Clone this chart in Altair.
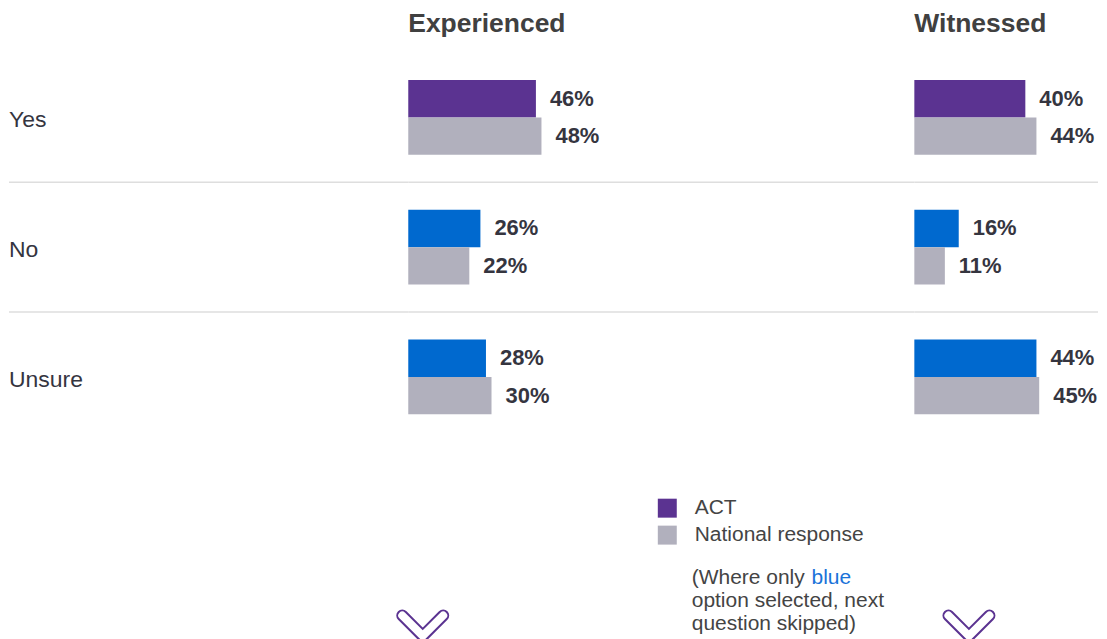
import altair as alt
import pandas as pd

# ---- data ----
rows = ["Yes", "No", "Unsure"]
series = ["ACT", "National response"]
experienced_act = [46, 26, 28]
experienced_national = [48, 22, 30]
witnessed_act = [40, 16, 44]
witnessed_national = [44, 11, 45]
act_keys = ["ACT", "ACT (skip)", "ACT (skip)"]
panel_titles = ["Experienced", "Witnessed"]
separators = ["Yes", "No"]
note_text = "(Where only \noption selected, next\nquestion skipped)"
highlight_word = "blue"

PURPLE = "#5B3391"
BLUE = "#0069CF"
GREY = "#B1B0BD"
TXT = "#35353F"
FONT = "Liberation Sans"

CHEVRON = ("M -0.640 -0.511 L 0 0.129 L 0.640 -0.511 A 0.189 0.189 0 0 1 0.908 -0.243 "
           "L 0 0.663 L -0.908 -0.243 A 0.189 0.189 0 0 1 -0.640 -0.511 Z")

W_LEFT, W_EXP, W_WIT = 400, 507, 184


def panel_df(act, nat):
    recs = []
    for r, k, a, n in zip(rows, act_keys, act, nat):
        recs.append(dict(row=r, series=series[0], key=k, value=a, label=f"{a}%"))
        recs.append(dict(row=r, series=series[1], key=series[1], value=n, label=f"{n}%"))
    return pd.DataFrame(recs)


y_scale = alt.Scale(domain=rows, range=[44, 434], paddingInner=0, paddingOuter=0)
yoff_scale = alt.Scale(domain=series, paddingInner=0, paddingOuter=0.733)
x_scale = alt.Scale(domain=[0, 100], range=[0, 278])
color_scale = alt.Scale(domain=["ACT", "National response", "ACT (skip)"],
                        range=[PURPLE, GREY, BLUE])
legend = alt.Legend(title=None, orient="none", legendX=649, legendY=490,
                    values=["ACT", "National response"], symbolType="square",
                    symbolSize=361, symbolStrokeWidth=0, symbolOpacity=1,
                    labelFontSize=21, labelFont=FONT, labelColor="#444444",
                    labelLimit=0, labelOffset=17, rowPadding=5, padding=0)

sep_df = pd.DataFrame({"row": separators})


def separator(width):
    return alt.Chart(sep_df).mark_rule(color="#DEDEDE", strokeWidth=1.5).encode(
        y=alt.Y("row:N", scale=y_scale, axis=None, bandPosition=1),
        x=alt.value(0), x2=alt.value(width))


def chevron(cx):
    return alt.Chart(pd.DataFrame({"c": [0]})).mark_point(
        shape=CHEVRON, size=2809, filled=False, stroke=PURPLE, strokeWidth=2, opacity=1
    ).encode(x=alt.value(cx), y=alt.value(618))


def panel_layers(title, act, nat, width, chev_x):
    df = panel_df(act, nat)
    base = alt.Chart(df).encode(
        y=alt.Y("row:N", scale=y_scale, axis=None),
        yOffset=alt.YOffset("series:N", scale=yoff_scale),
        x=alt.X("value:Q", scale=x_scale, axis=None),
    )
    bars = base.mark_bar().encode(color=alt.Color("key:N", scale=color_scale, legend=legend))
    labels = base.mark_text(align="left", baseline="middle", dx=14, fontSize=22,
                            fontWeight="bold", font=FONT, color=TXT).encode(text="label:N")
    ttl = alt.Chart(pd.DataFrame({"t": [title]})).mark_text(
        align="left", baseline="alphabetic", fontSize=26.5, fontWeight="bold",
        font=FONT, color="#404040").encode(x=alt.value(0), y=alt.value(23), text="t:N")
    return [separator(width), bars, labels, ttl, chevron(chev_x)]


# left label panel
lab = alt.Chart(pd.DataFrame({"row": rows})).mark_text(
    align="left", baseline="middle", fontSize=23, font=FONT, color=TXT, dy=3
).encode(y=alt.Y("row:N", scale=y_scale, axis=None), x=alt.value(0), text="row:N")
left = alt.layer(separator(W_LEFT), lab).properties(width=W_LEFT, height=623)

# note under the legend (inside the Experienced panel)
note = alt.Chart(pd.DataFrame({"t": [note_text]})).mark_text(
    align="left", baseline="top", fontSize=21, font=FONT, color="#444444",
    lineBreak="\n", lineHeight=23.5
).encode(x=alt.value(284), y=alt.value(559), text="t:N")
note_blue = alt.Chart(pd.DataFrame({"t": [highlight_word]})).mark_text(
    align="left", baseline="top", fontSize=21, font=FONT, color="#1A73D9"
).encode(x=alt.value(404), y=alt.value(559), text="t:N")

exp_panel = alt.layer(
    *panel_layers(panel_titles[0], experienced_act, experienced_national, W_EXP, 14.5),
    note, note_blue
).properties(width=W_EXP, height=623)

wit_panel = alt.layer(
    *panel_layers(panel_titles[1], witnessed_act, witnessed_national, W_WIT, 54.7)
).properties(width=W_WIT, height=623)

chart = alt.hconcat(left, exp_panel, wit_panel, spacing=0, bounds="flush").properties(
    padding=0
).configure_view(stroke=None).resolve_scale(y="independent", x="independent", yOffset="independent")

chart.save("out.html", embed_options={"renderer": "svg", "actions": False})
